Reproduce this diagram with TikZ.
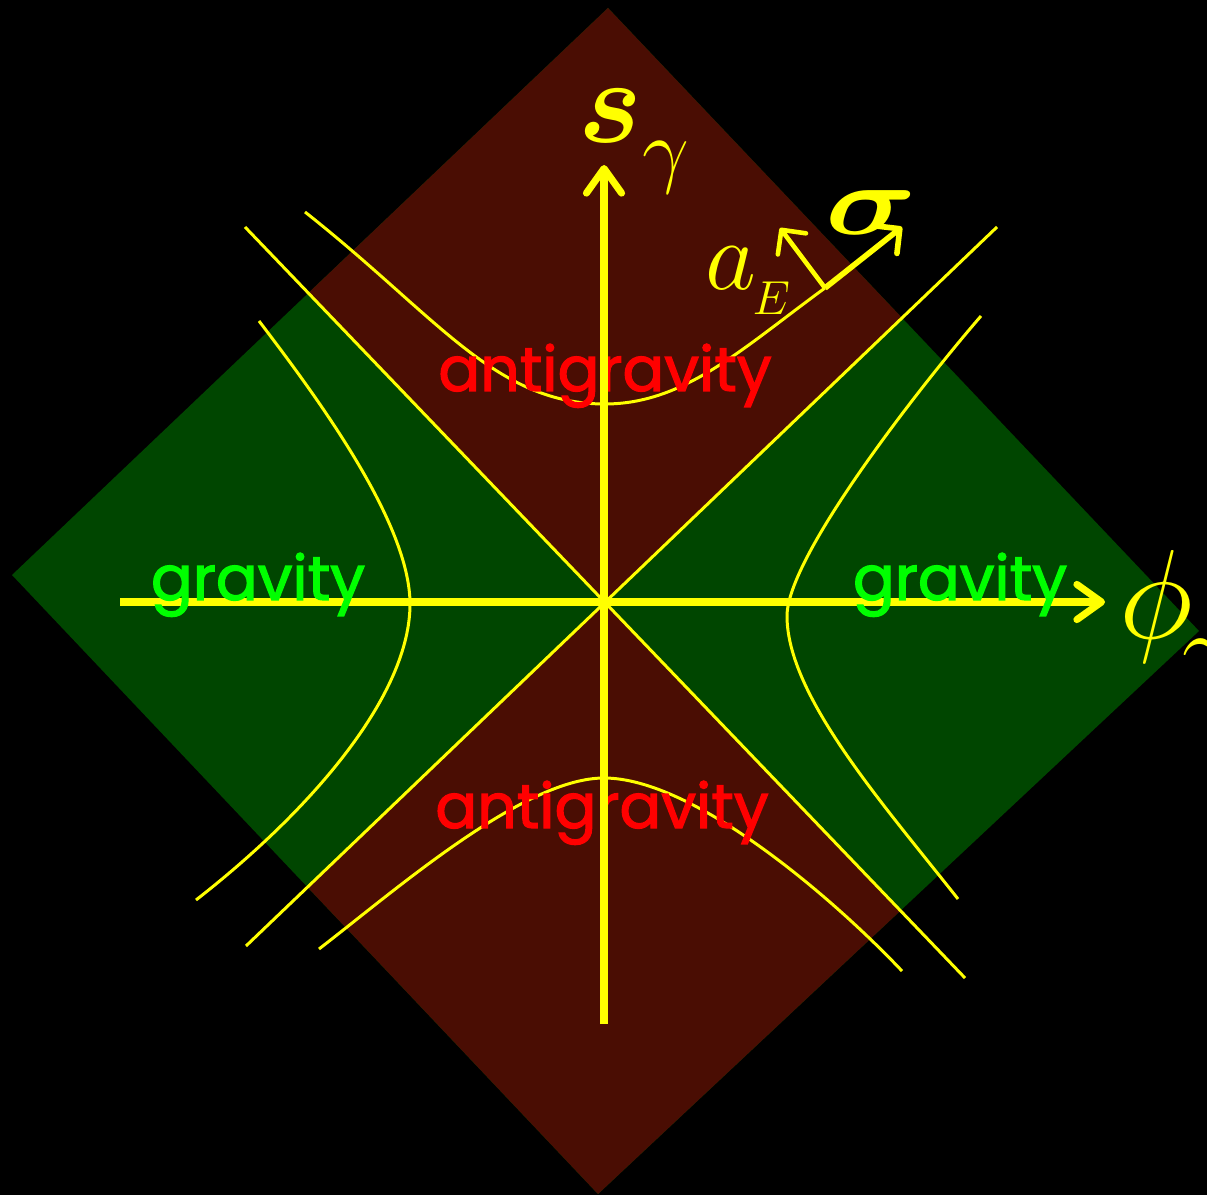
\documentclass[tikz,border=0pt]{standalone}
\usepackage{amsmath,bm}
\usepackage{fontspec}
\newfontfamily\regionfont{Poppins}[BoldFont=Poppins,BoldFeatures={FakeBold=2}]
\usepackage{tikz}
\usetikzlibrary{arrows.meta}
\definecolor{conered}{RGB}{74,13,3}
\definecolor{fieldgreen}{RGB}{0,70,0}
\definecolor{lineyellow}{RGB}{255,255,0}
\definecolor{antired}{RGB}{255,0,0}
\definecolor{gravgreen}{RGB}{0,255,0}

\begin{document}
\begin{tikzpicture}[x=0.01cm,y=-0.01cm,
  coneline/.style={draw=lineyellow,line width=0.85pt},
  hyp/.style={draw=lineyellow,line width=0.85pt},
  axisline/.style={draw=lineyellow,line width=2pt,-{Straight Barb[round,length=7pt,width=10pt]}},
  vecline/.style={draw=lineyellow,line width=1.6pt,-{Straight Barb[round,length=5pt,width=10pt]}},
  region/.style={font=\regionfont\bfseries\fontsize{17.6}{20}\selectfont,anchor=base,inner sep=0pt},
  symlabel/.style={text=lineyellow,anchor=base west,inner sep=0pt,font=\Huge}]
\useasboundingbox (0,0) rectangle (1207,1195);
\fill[black] (0,0) rectangle (1207,1195);
% the big square and its two cones
\coordinate (T) at (608,8);
\coordinate (L) at (12,575);
\coordinate (B) at (598,1194);
\coordinate (R) at (1199,631);
\coordinate (O) at (605,602);
\fill[fieldgreen] (T) -- (L) -- (B) -- (R) -- cycle;
\begin{scope}
  \clip (T) -- (L) -- (B) -- (R) -- cycle;
  \fill[conered] (O) -- (0,-29) -- (1207,-29) -- (1207,26) -- cycle;
  \fill[conered] (O) -- (1207,1230) -- (1207,1260) -- (0,1260) -- (0,1181) -- cycle;
\end{scope}
% light cone
\coordinate (c1a) at (245,227);
\coordinate (c1b) at (965,978);
\coordinate (c2a) at (246,946);
\coordinate (c2b) at (997,227);
\draw[coneline] (c1a) -- (c1b);
\draw[coneline] (c2a) -- (c2b);
% hyperbolas
\coordinate (P) at (825,288);
\draw[hyp] (305,212) .. controls (438,317) and (495,404) .. (605,404)
  .. controls (685,404) and (744,347) .. (P);
\draw[hyp] (319,949) .. controls (398,888) and (524,778) .. (604,778)
  .. controls (694,778) and (834,899) .. (902,971);
\draw[hyp] (259,321) .. controls (320,401) and (410,524) .. (410,604)
  .. controls (410,694) and (314,808) .. (196,900);
\draw[hyp] (981,316) .. controls (922,384) and (787,556) .. (787,616)
  .. controls (787,696) and (884,805) .. (958,899);
% phi axis
\coordinate (phiL) at (120,602);
\coordinate (phiR) at (1105,602);
\draw[axisline] (phiL) -- (phiR);
% region names
\node[region,text=gravgreen] (gravL) at (258,600) {gravity};
\node[region,text=gravgreen] (gravR) at (960,600) {gravity};
\node[region,text=antired] (antiT) at (605,391) {antigravity};
\node[region,text=antired] (antiB) at (602,828) {antigravity};
% s axis
\coordinate (sB) at (604,1024);
\coordinate (sT) at (604,165);
\draw[axisline] (sB) -- (sT);
% the two vectors at P
\coordinate (sigtip) at (902,227);
\coordinate (aEtip) at (780,228);
\draw[vecline] (P) -- (sigtip);
\draw[vecline,line width=1.3pt] (P) -- (aEtip);
% labels
\node[symlabel,scale=1.37] (slab) at (578,143) {$\bm{s}_{\raisebox{-3.5pt}{\fontsize{17.28}{20}\selectfont$\gamma$}}$};
\node[symlabel,scale=1.45] (philab) at (1118,638) {$\phi_{\kern-2pt\raisebox{-4pt}{\fontsize{17.28}{20}\selectfont$\gamma$}}$};
\node[symlabel,xscale=1.45,yscale=1.13] (siglab) at (824,235) {$\bm{\sigma}$};
\node[symlabel,scale=1.13] (aElab) at (705,290) {$a_{\kern-1pt\raisebox{-2.5pt}{\fontsize{12}{14}\selectfont$E$}}$};
\end{tikzpicture}
\end{document}
